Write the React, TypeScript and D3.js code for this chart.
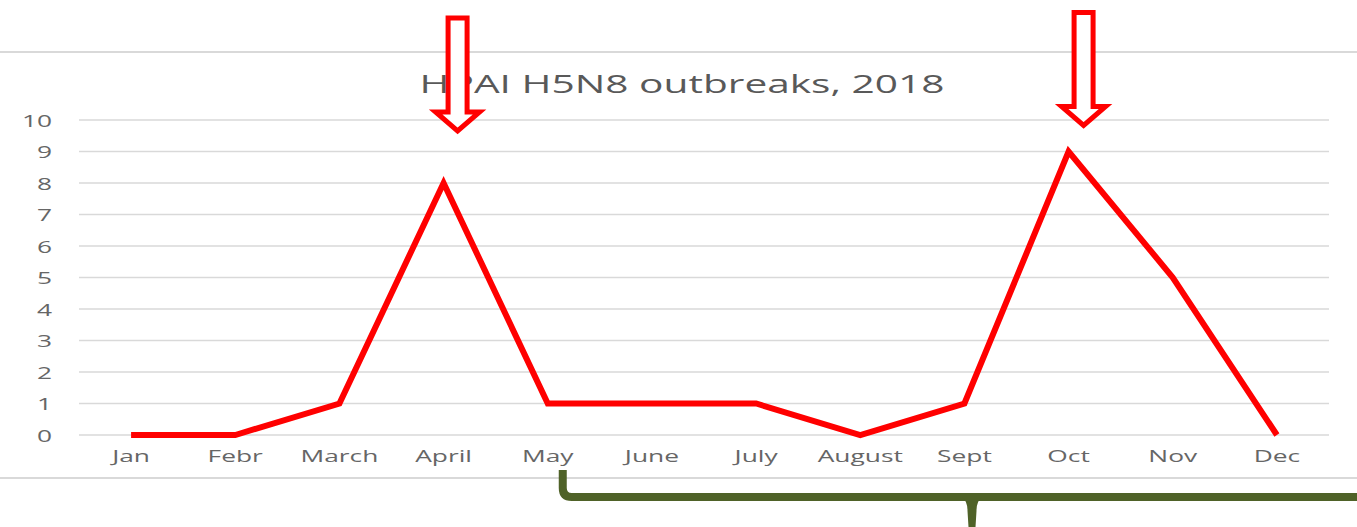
import React from "react";
import * as d3 from "d3";

const months = ["Jan", "Febr", "March", "April", "May", "June", "July", "August", "Sept", "Oct", "Nov", "Dec"];
const outbreaks = [0, 0, 1, 8, 1, 1, 1, 0, 1, 9, 5, 0];
const yTicks = [0, 1, 2, 3, 4, 5, 6, 7, 8, 9, 10];
const title = "HPAI H5N8 outbreaks, 2018";
const arrowMonths = ["April", "Oct"];
const braceFrom = "May";

const W = 1357;
const H = 527;
const FONT = "'Open Sans', 'DejaVu Sans', sans-serif";
const SX = 1.55;

export default function App() {
  const x = d3.scaleBand<string>().domain(months).range([79, 1329]);
  const cx = (m: string) => (x(m) as number) + x.bandwidth() / 2;
  const y = d3.scaleLinear().domain([0, 10]).range([435, 120]);

  const line = d3
    .line<number>()
    .x((_, i) => cx(months[i]))
    .y((d) => y(d));

  const arrowPath = (c: number, top: number) => {
    const hw = 9.5;
    const headW = 22;
    const shoulder = top + 94;
    const tip = top + 113;
    return `M${c - hw},${top} L${c + hw},${top} L${c + hw},${shoulder} L${c + headW},${shoulder} L${c},${tip} L${c - headW},${shoulder} L${c - hw},${shoulder} Z`;
  };
  const arrowOffsets = [
    { dx: 14, top: 18 },
    { dx: 15, top: 12.5 },
  ];

  const bx = cx(braceFrom) + 15;
  const bTop = 470;
  const bY = 497;
  const bMid = 972;
  const r = 9;

  return (
    <svg
      width={W}
      height={H}
      style={{ position: "absolute", left: 0, top: 0, background: "#fff" }}
    >
      <rect x={0} y={0} width={W} height={H} fill="#fff" />
      {/* slide lines */}
      <line x1={0} x2={W} y1={52} y2={52} stroke="#d9d9d9" strokeWidth={2} />
      <line x1={0} x2={W} y1={478} y2={478} stroke="#d9d9d9" strokeWidth={2} />

      {/* gridlines */}
      {yTicks.map((t) => (
        <line key={t} x1={79} x2={1329} y1={y(t)} y2={y(t)} stroke="#d9d9d9" strokeWidth={1.5} />
      ))}

      {/* y tick labels */}
      {yTicks.map((t) => (
        <text
          key={t}
          transform={`translate(52,${y(t)}) scale(${SX},1)`}
          textAnchor="end"
          dominantBaseline="central"
          fontFamily={FONT}
          fontSize={17}
          fill="#666666"
        >
          {t}
        </text>
      ))}

      {/* x labels */}
      {months.map((m) => (
        <text
          key={m}
          transform={`translate(${cx(m)},462) scale(${SX},1)`}
          textAnchor="middle"
          fontFamily={FONT}
          fontSize={17}
          fill="#666666"
        >
          {m}
        </text>
      ))}

      {/* title */}
      <text
        x={682}
        y={93}
        textAnchor="middle"
        fontFamily={FONT}
        fontSize={26}
        fill="#595959"
        textLength={525}
        lengthAdjust="spacingAndGlyphs"
      >
        {title}
      </text>

      {/* data line */}
      <path
        d={line(outbreaks) || ""}
        fill="none"
        stroke="#ff0000"
        strokeWidth={6}
        strokeLinejoin="miter"
      />

      {/* arrows */}
      {arrowMonths.map((m, i) => (
        <path
          key={m}
          d={arrowPath(cx(m) + arrowOffsets[i].dx, arrowOffsets[i].top)}
          fill="#fff"
          stroke="#ff0000"
          strokeWidth={5}
          strokeLinejoin="miter"
        />
      ))}

      {/* brace */}
      <path
        d={`M${bx},${bTop} L${bx},${bY - r} Q${bx},${bY} ${bx + r},${bY} L${W + 5},${bY}`}
        fill="none"
        stroke="#4f6228"
        strokeWidth={8}
      />
      <path
        d={`M${bMid - 10},${bY} Q${bMid - 4.5},${bY + 4} ${bMid - 4.5},${bY + 14} L${bMid - 3.5},${H} L${bMid + 3.5},${H} L${bMid + 4.5},${bY + 14} Q${bMid + 4.5},${bY + 4} ${bMid + 10},${bY} Z`}
        fill="#4f6228"
      />
    </svg>
  );
}
